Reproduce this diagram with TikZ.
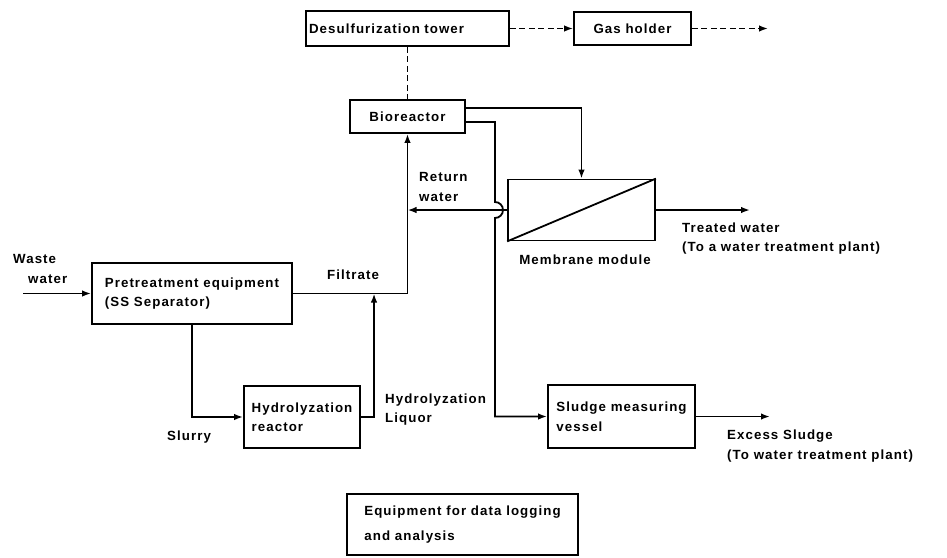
\documentclass[tikz,border=0pt]{standalone}
\usepackage{fontspec}
\setmainfont{Liberation Sans}[LetterSpace=8]
\usetikzlibrary{arrows.meta,calc}

\newcommand\diagfont{\fontsize{13.3}{19.5}\selectfont\bfseries\hyphenpenalty=10000\exhyphenpenalty=10000}

\tikzset{
  unit/.style={draw, rectangle, line width=1.8pt, inner sep=0pt, font=\diagfont, align=left},
  pipe/.style={line width=1.8pt},
  flow/.style={line width=1.8pt, -{Latex[length=9pt,width=6.5pt]}},
  gasline/.style={line width=1.6pt, dash pattern=on 6pt off 3.5pt},
  gasflow/.style={gasline, -{Latex[length=9pt,width=6.5pt]}},
  tag/.style={font=\diagfont, inner sep=0pt, anchor=west, align=left}
}

\begin{document}
\begin{tikzpicture}[x=1pt,y=-1pt]
  \useasboundingbox (0,0) rectangle (947,557);

  % process units
  \node[unit, minimum width=203pt, minimum height=35pt, text width=197pt] (desulf) at (407.5,28.5) {Desulfurization tower};
  \node[unit, minimum width=117pt, minimum height=33pt, align=center] (gas) at (632.5,28.5) {Gas holder};
  \node[unit, minimum width=115pt, minimum height=33pt, align=center] (bio) at (407.5,116.5) {Bioreactor};
  \node[unit, minimum width=147pt, minimum height=61pt] (mem) at (581.5,210) {};
  \node[unit, minimum width=200pt, minimum height=61pt] (pre) at (192,293.5) {Pretreatment equipment\\(SS Separator)};
  \node[unit, minimum width=116pt, minimum height=62pt] (hyd) at (302,417) {Hydrolyzation\\reactor};
  \node[unit, minimum width=147pt, minimum height=63pt] (sludge) at (621.5,416.5) {Sludge measuring\\vessel};
  \node[unit, minimum width=231pt, minimum height=61pt] (data) at (462.5,524.5) {Equipment for data logging\\[5pt]and analysis};

  % membrane symbol
  \draw[pipe] (mem.south west) -- (mem.north east);

  % free ends and routing columns
  \coordinate (win) at (23,293.5);
  \coordinate (gout) at (768,0);
  \coordinate (tout) at (750,0);
  \coordinate (sout) at (770,0);
  \coordinate (jx) at (495,0);
  \coordinate (lx) at (374,0);

  % gas side
  \draw[gasline] (desulf.south) -- (bio.north);
  \draw[gasflow] (desulf.east) -- (gas.west);
  \draw[gasflow] (gas.east) -- (gas.east -| gout);

  % liquid side
  \draw[flow] (win) -- (pre.west);
  \draw[flow] (pre.east) -| (bio.south);
  \draw[flow] (pre.south) |- (hyd.west);
  \draw[flow] (hyd.east) -| (lx |- pre.east);
  \draw[flow] ([yshift=8.5pt]bio.east) -| (mem.north);
  \draw[flow] (mem.west) -- (mem.west -| bio.south);
  \draw[flow] ([yshift=-5.5pt]bio.east) coordinate (b2) -- (b2 -| jx)
      -- ($(jx |- mem.west)+(0,-8)$) arc[start angle=-90, end angle=90, radius=8]
      -- (jx |- sludge.west) -- (sludge.west);
  \draw[flow] (mem.east) -- (mem.east -| tout);
  \draw[flow] (sludge.east) -- (sludge.east -| sout);

  % stream labels
  \node[tag] (lwaste) at (13,269) {Waste\\\hspace*{15pt}water};
  \node[tag] (lfilt) at (327,275) {Filtrate};
  \node[tag] (lret) at (419,187) {Return\\water};
  \node[font=\diagfont, inner sep=0pt] (lmem) at (585,260) {Membrane module};
  \node[tag] (ltreat) at (682,238.5) {Treated water\\(To a water treatment plant)};
  \node[tag] (lslurry) at (167,437) {Slurry};
  \node[tag] (lliq) at (385,409.5) {Hydrolyzation\\Liquor};
  \node[tag] (lexcess) at (727,446) {Excess Sludge\\(To water treatment plant)};
\end{tikzpicture}
\end{document}
